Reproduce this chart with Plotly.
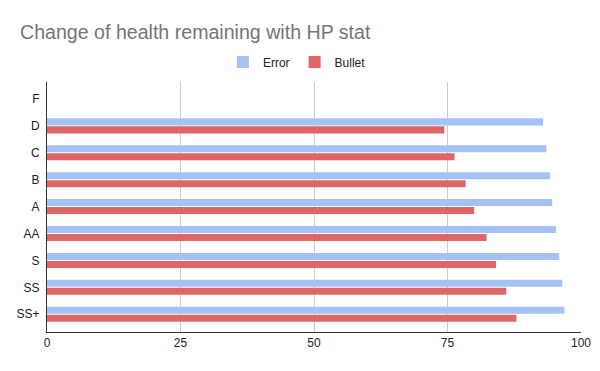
import plotly.graph_objects as go

categories = ["F", "D", "C", "B", "A", "AA", "S", "SS", "SS+"]
error_vals = [None, 92.9, 93.5, 94.2, 94.6, 95.3, 95.9, 96.5, 96.9]
bullet_vals = [None, 74.4, 76.3, 78.4, 80.0, 82.3, 84.1, 86.0, 87.9]
x_ticks = [0, 25, 50, 75, 100]

FONT = "Liberation Sans, Arial, sans-serif"

fig = go.Figure()
fig.add_trace(go.Bar(y=categories, x=error_vals, name="Error", orientation="h",
                     marker=dict(color="#a4c2f4", line=dict(width=0))))
fig.add_trace(go.Bar(y=categories, x=bullet_vals, name="Bullet", orientation="h",
                     marker=dict(color="#e06666", line=dict(width=0))))

# page has an 8px body margin, so the figure is 592x363 and offsets compensate
fig.update_layout(
    width=592, height=363,
    margin=dict(l=39, r=19, t=74, b=39, autoexpand=False),
    paper_bgcolor="white", plot_bgcolor="white",
    font=dict(family=FONT, size=12, color="#222222"),
    title=dict(text="Change of health remaining with HP stat", x=0.0203, xanchor="left",
               y=0.934, yanchor="middle",
               font=dict(family=FONT, size=19.6, color="#757575")),
    barmode="group", bargap=0.405, bargroupgap=0.12,
    showlegend=True,
    legend=dict(orientation="h", x=0.468, xanchor="center", y=1.08, yanchor="middle",
                font=dict(size=12, color="#222222"), itemwidth=30),
    xaxis=dict(range=[0, 100], tickvals=x_ticks, showgrid=True, gridcolor="#cccccc",
               gridwidth=1, zeroline=False, showline=True, linecolor="#333333", linewidth=1,
               ticks="", automargin=False, tickfont=dict(size=12, color="#222222")),
    yaxis=dict(categoryorder="array", categoryarray=categories, range=[8.66, -0.63],
               showgrid=False, zeroline=False, showline=True, linecolor="#333333",
               linewidth=1, ticks="outside", ticklen=4, tickcolor="rgba(0,0,0,0)",
               automargin=False, tickfont=dict(size=12, color="#222222")),
)

fig.write_html("out.html")
